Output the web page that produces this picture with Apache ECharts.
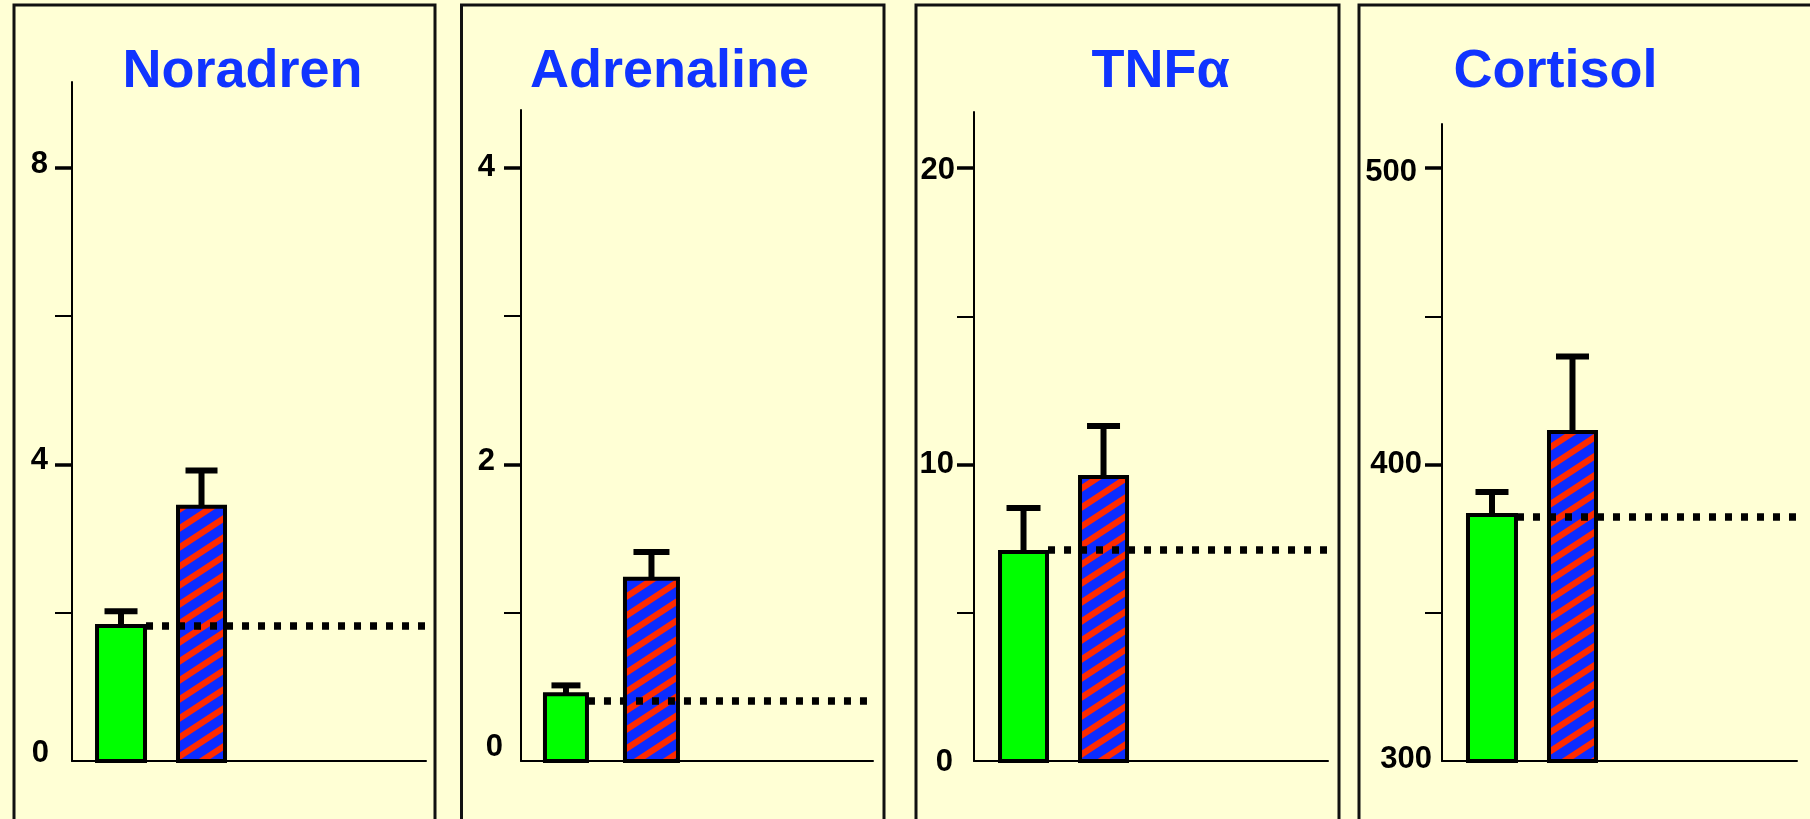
<!DOCTYPE html>
<html><head><meta charset="utf-8">
<script src="https://cdn.jsdelivr.net/npm/echarts@6/dist/echarts.min.js"></script>
<style>html,body{margin:0;padding:0;background:#ffffd5;} #c{width:1810px;height:819px;}</style>
</head><body><div id="c"></div>
<script>
// ---- data ----
const panelTitles = ['Noradren', 'Adrenaline', 'TNFα', 'Cortisol'];
const groups = ['Control', 'Stress'];
const controlMeans = [1.82, 0.45, 7.05, 383];
const controlSEM = [0.20, 0.06, 1.48, 7.7];
const stressMeans = [3.43, 1.23, 9.58, 411];
const stressSEM = [0.49, 0.18, 1.72, 25.4];
const baselineLevels = [1.82, 0.405, 7.12, 382.3];
const yAxisMin = [0, 0, 0, 300];
const yLabelValues = [[0, 4, 8], [0, 2, 4], [0, 10, 20], [300, 400, 500]];
const yMajorTickValues = [[4, 8], [2, 4], [10, 20], [400, 500]];
const yMinorTickValues = [[2, 6], [1, 3], [5, 15], [350, 450]];

// ---- layout (positions / sizes / styles) ----
const layout = [
  {left: 72, top: 82, width: 354, xMin: -0.609, xMax: 3.789, yMax: 9.16, barOuter: [52, 51], cap: [33, 32],
   titleX: 242.5, frame: [14, 421], margin: 23, lab: [[0, -8], [1, -4], [1, -3.5]]},
  {left: 521, top: 110, width: 352, xMin: -0.526, xMax: 3.591, yMax: 4.391, barOuter: [46, 57], cap: [29, 36],
   titleX: 669.5, frame: [461.5, 422.5], margin: 18, lab: [[0, -14], [8, -3.5], [8, -1]]},
  {left: 974, top: 112, width: 354, xMin: -0.619, xMax: 3.806, yMax: 21.889, barOuter: [51, 51], cap: [34, 33],
   titleX: 1160.5, frame: [916, 423], margin: 19, lab: [[2, 1], [1, 0], [0, 2]]},
  {left: 1442, top: 124, width: 355, xMin: -0.621, xMax: 3.789, yMax: 514.84, barOuter: [52, 51], cap: [33, 33],
   titleX: 1555.5, frame: [1359, 600], margin: 10, lab: [[0, -2], [10, 0], [15, 4]]}
];
const BG = '#ffffd5', GREEN = '#00ff00', BLUE = '#0c2cff', RED = '#ff2a00', TITLE = '#1034ff';
const FONT = 'Liberation Sans';

// hatch pattern: blue with red diagonal stripes
const PW = 29, PH = 19, SL = PH / PW;
const pc = document.createElement('canvas');
pc.width = PW; pc.height = PH;
const pctx = pc.getContext('2d');
pctx.fillStyle = BLUE; pctx.fillRect(0, 0, PW, PH);
pctx.strokeStyle = RED; pctx.lineWidth = 6.3;
for (let k = -1; k <= 2; k++) {
  pctx.beginPath();
  pctx.moveTo(-6, PH + SL * 6 + PH * k);
  pctx.lineTo(PW + 6, PH - SL * (PW + 6) + PH * k);
  pctx.stroke();
}
const hatch = {image: pc, repeat: 'repeat'};

const grids = [], xAxes = [], yAxes = [], series = [], graphics = [];
layout.forEach((L, i) => {
  grids.push({left: L.left, top: L.top, width: L.width, bottom: 58});
  xAxes.push({type: 'value', gridIndex: i, min: L.xMin, max: L.xMax,
    axisLine: {show: true, onZero: false, lineStyle: {color: '#000', width: 2}},
    axisTick: {show: false}, axisLabel: {show: false}, splitLine: {show: false}});
  const rich = {};
  yLabelValues[i].forEach((v, j) => {
    const [pr, s] = L.lab[j];
    rich['L' + j] = {fontSize: 31, fontWeight: 'bold', fontFamily: FONT, color: '#000',
      padding: [s > 0 ? 2 * s : 0, pr, s < 0 ? -2 * s : 0, 0]};
  });
  yAxes.push({type: 'value', gridIndex: i, position: 'left', min: yAxisMin[i], max: L.yMax,
    axisLine: {show: true, onZero: false, lineStyle: {color: '#000', width: 2}},
    axisTick: {show: true, length: 17, customValues: yMajorTickValues[i], lineStyle: {color: '#000', width: 3.5}},
    axisLabel: {show: true, customValues: yLabelValues[i], margin: L.margin,
      fontSize: 31, fontWeight: 'bold', fontFamily: FONT, color: '#000',
      formatter: (v) => '{L' + yLabelValues[i].indexOf(v) + '|' + v + '}', rich: rich},
    splitLine: {show: false}});
  yAxes.push({type: 'value', gridIndex: i, position: 'left', offset: 0, min: yAxisMin[i], max: L.yMax,
    axisLine: {show: false, onZero: false},
    axisTick: {show: true, length: 17, customValues: yMinorTickValues[i], lineStyle: {color: '#000', width: 2}},
    axisLabel: {show: false}, splitLine: {show: false}});

  const xi = i, yi = 2 * i;
  // bars
  series.push({type: 'custom', name: panelTitles[i] + ' bars', xAxisIndex: xi, yAxisIndex: yi, z: 2,
    data: [[0, controlMeans[i]], [1, stressMeans[i]]],
    renderItem: (params, api) => {
      const x = api.value(0), v = api.value(1);
      const top = api.coord([x, v]), base = api.coord([x, yAxisMin[i]]);
      const w = L.barOuter[x] - 4;
      return {type: 'rect', shape: {x: top[0] - w / 2, y: top[1], width: w, height: base[1] - top[1]},
        style: {fill: x === 0 ? GREEN : hatch, stroke: '#000', lineWidth: 4}};
    }});
  // error bars
  series.push({type: 'custom', name: panelTitles[i] + ' sem', xAxisIndex: xi, yAxisIndex: yi, z: 3,
    data: [[0, controlMeans[i], controlSEM[i]], [1, stressMeans[i], stressSEM[i]]],
    renderItem: (params, api) => {
      const x = api.value(0), m = api.value(1), e = api.value(2);
      const p0 = api.coord([x, m]), p1 = api.coord([x, m + e]);
      const c = L.cap[x];
      return {type: 'group', children: [
        {type: 'line', shape: {x1: p0[0], y1: p0[1], x2: p1[0], y2: p1[1]}, style: {stroke: '#000', lineWidth: 6}},
        {type: 'rect', shape: {x: p1[0] - c / 2, y: p1[1] - 3, width: c, height: 6}, style: {fill: '#000'}}
      ]};
    }});
  // baseline dotted line
  series.push({type: 'custom', name: panelTitles[i] + ' baseline', xAxisIndex: xi, yAxisIndex: yi, z: 4,
    data: [[0, baselineLevels[i]]],
    renderItem: (params, api) => {
      const p = api.coord([api.value(0), api.value(1)]);
      const x1 = p[0] + L.barOuter[0] / 2 - 1;
      const x2 = params.coordSys.x + params.coordSys.width - 1;
      return {type: 'line', shape: {x1: x1, y1: p[1], x2: x2, y2: p[1]},
        style: {stroke: '#000', lineWidth: 7.5, lineDash: [7, 9], lineCap: 'butt'}};
    }});

  graphics.push({type: 'rect', silent: true, z: 0,
    shape: {x: L.frame[0], y: 5, width: L.frame[1], height: 900},
    style: {fill: 'transparent', stroke: '#111', lineWidth: 3}});
  graphics.push({type: 'text', silent: true, x: L.titleX, y: 72.5,
    style: {text: panelTitles[i], fill: TITLE, font: 'bold 54px "' + FONT + '"',
      align: 'center', verticalAlign: 'middle', textAlign: 'center', textVerticalAlign: 'middle'}});
});

const chart = echarts.init(document.getElementById('c'), null, {renderer: 'canvas', width: 1810, height: 819});
chart.setOption({
  backgroundColor: BG,
  animation: false,
  grid: grids, xAxis: xAxes, yAxis: yAxes, series: series, graphic: graphics
});
</script></body></html>
